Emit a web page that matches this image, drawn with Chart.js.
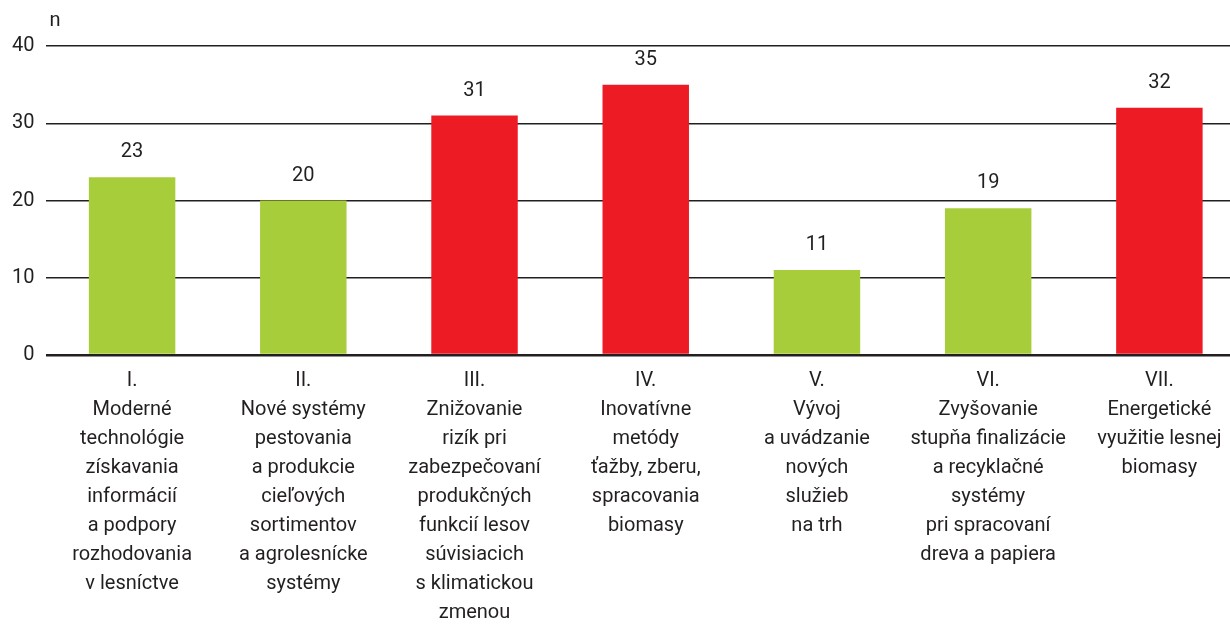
<!DOCTYPE html>
<html>
<head>
<meta charset="utf-8">
<script src="https://cdn.jsdelivr.net/npm/chart.js@4"></script>
<style>
  html, body { margin: 0; padding: 0; background: #fff; overflow: hidden; }
  #wrap { width: 1245px; height: 632px; }
</style>
</head>
<body>
<div id="wrap"><canvas id="myChart"></canvas></div>
<script>
// Chart data
const categories = [
    ['I.', 'Moderné', 'technológie', 'získavania', 'informácií', 'a podpory', 'rozhodovania', 'v lesníctve'],
    ['II.', 'Nové systémy', 'pestovania', 'a produkcie', 'cieľových', 'sortimentov', 'a agrolesnícke', 'systémy'],
    ['III.', 'Znižovanie', 'rizík pri', 'zabezpečovaní', 'produkčných', 'funkcií lesov', 'súvisiacich', 's klimatickou', 'zmenou'],
    ['IV.', 'Inovatívne', 'metódy', 'ťažby, zberu,', 'spracovania', 'biomasy'],
    ['V.', 'Vývoj', 'a uvádzanie', 'nových', 'služieb', 'na trh'],
    ['VI.', 'Zvyšovanie', 'stupňa finalizácie', 'a recyklačné', 'systémy', 'pri spracovaní', 'dreva a papiera'],
    ['VII.', 'Energetické', 'využitie lesnej', 'biomasy']
];
const counts = [23, 20, 31, 35, 11, 19, 32];
const redBars = [2, 3, 6]; // indexes drawn in red
const yTicks = [0, 10, 20, 30, 40];

const GREEN = '#a8cd3b';
const RED = '#ed1c24';
const INK = '#231f20';
const FONT = '"Roboto", sans-serif';

// value labels above bars + the "n" unit label
const labelsPlugin = {
    id: 'barLabels',
    afterDatasetsDraw(chart) {
        const ctx = chart.ctx;
        const meta = chart.getDatasetMeta(0);
        ctx.save();
        ctx.font = '20px ' + FONT;
        ctx.fillStyle = INK;
        ctx.textAlign = 'center';
        ctx.textBaseline = 'bottom';
        meta.data.forEach((bar, i) => {
            ctx.fillText(String(counts[i]), bar.x, bar.y - 15);
        });
        ctx.textAlign = 'left';
        ctx.fillText('n', chart.chartArea.left + 3, chart.chartArea.top - 15);
        ctx.restore();
    }
};

const ctx = document.getElementById('myChart').getContext('2d');
const chart = new Chart(ctx, {
    type: 'bar',
    data: {
        labels: categories,
        datasets: [{
            data: counts,
            backgroundColor: counts.map((v, i) => redBars.includes(i) ? RED : GREEN),
            borderWidth: 0,
            categoryPercentage: 1,
            barPercentage: 0.505
        }]
    },
    options: {
        responsive: true,
        maintainAspectRatio: false,
        animation: false,
        layout: { padding: { top: 46, left: 0, right: 0, bottom: 0 } },
        plugins: {
            legend: { display: false },
            tooltip: { enabled: false }
        },
        scales: {
            x: {
                grid: { display: false },
                border: { display: false },
                afterFit: axis => { axis.height = 277; },
                ticks: {
                    color: INK,
                    font: { family: FONT, size: 20, lineHeight: 1.45 },
                    padding: 3,
                    maxRotation: 0,
                    autoSkip: false
                }
            },
            y: {
                min: 0,
                max: 40,
                afterBuildTicks: axis => { axis.ticks = yTicks.map(v => ({ value: v })); },
                border: { display: false },
                grid: {
                    color: INK,
                    lineWidth: ctx => ctx.tick.value === 0 ? 2.5 : 1.5,
                    drawTicks: false
                },
                ticks: {
                    color: INK,
                    font: { family: FONT, size: 20 },
                    padding: 12
                }
            }
        }
    },
    plugins: [labelsPlugin]
});
</script>
</body>
</html>
